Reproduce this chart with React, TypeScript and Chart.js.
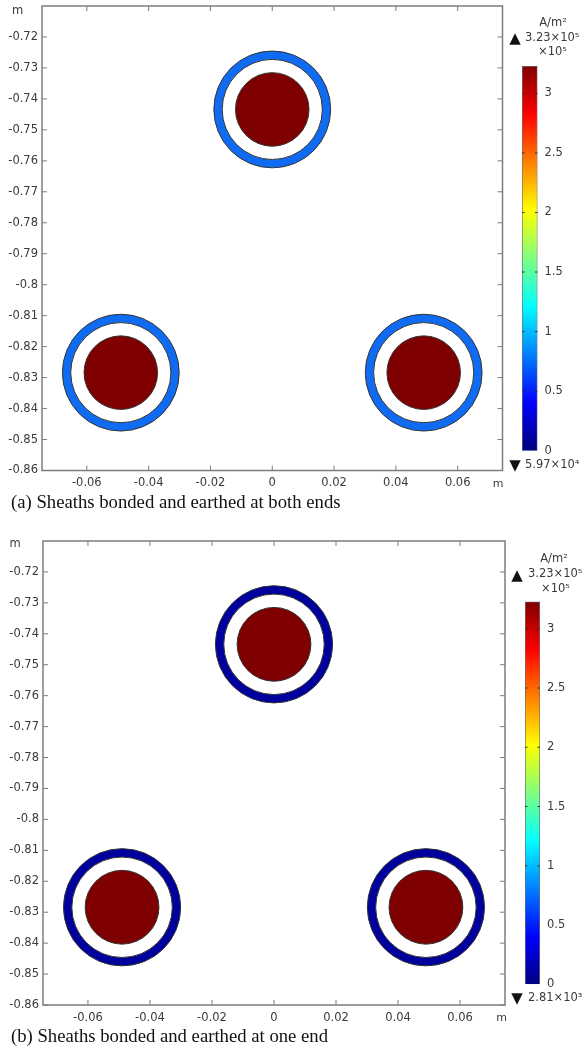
import React, { useEffect, useRef } from "react";
import { Chart, registerables } from "chart.js";

Chart.register(...registerables);

const FONT = "'DejaVu Sans'";
const TEXT = "#3a3a3a";

const xTicks = [-0.06, -0.04, -0.02, 0, 0.02, 0.04, 0.06];
const xLabels = ["-0.06", "-0.04", "-0.02", "0", "0.02", "0.04", "0.06"];
const yTicks = [-0.72, -0.73, -0.74, -0.75, -0.76, -0.77, -0.78, -0.79, -0.8, -0.81, -0.82, -0.83, -0.84, -0.85, -0.86];
const yLabels = ["-0.72", "-0.73", "-0.74", "-0.75", "-0.76", "-0.77", "-0.78", "-0.79", "-0.8", "-0.81", "-0.82", "-0.83", "-0.84", "-0.85", "-0.86"];

const cableX = [-0.049, 0, 0.049];
const cableY = [-0.8284, -0.7434, -0.8284];
const sheathOuterRadius = 0.0189;
const sheathInnerRadius = 0.0162;
const coreRadius = 0.0119;

const colorTicks = [0, 0.5, 1, 1.5, 2, 2.5, 3];
const colorLabels = ["0", "0.5", "1", "1.5", "2", "2.5", "3"];
const colorMax = 3.23;
const jetStops = [
  [0, "#00007f"],
  [0.125, "#0000ff"],
  [0.375, "#00ffff"],
  [0.625, "#ffff00"],
  [0.875, "#ff0000"],
  [1, "#7f0000"],
] as const;

const sheathColorA = "#0f6cf2";
const sheathColorB = "#00009c";
const coreColor = "#7f0000";

const framePlugin = {
  id: "frame",
  afterDatasetsDraw(chart: any) {
    const { ctx, chartArea: a, scales } = chart;
    ctx.save();
    ctx.strokeStyle = "#7d7d7d";
    ctx.lineWidth = 1;
    const len = 5;
    ctx.beginPath();
    scales.x.ticks.forEach((t: any) => {
      const p = scales.x.getPixelForValue(t.value);
      ctx.moveTo(p, a.top);
      ctx.lineTo(p, a.top + len);
      ctx.moveTo(p, a.bottom);
      ctx.lineTo(p, a.bottom - len);
    });
    scales.y.ticks.forEach((t: any) => {
      const p = scales.y.getPixelForValue(t.value);
      ctx.moveTo(a.left, p);
      ctx.lineTo(a.left + len, p);
      ctx.moveTo(a.right, p);
      ctx.lineTo(a.right - len, p);
    });
    ctx.stroke();
    ctx.lineWidth = 1.5;
    ctx.strokeRect(a.left, a.top, a.right - a.left, a.bottom - a.top);
    ctx.restore();
  },
};

const barTicksPlugin = {
  id: "barTicks",
  afterDatasetsDraw(chart: any) {
    const { ctx, chartArea: a, scales } = chart;
    ctx.save();
    ctx.strokeStyle = "#333";
    ctx.lineWidth = 1;
    ctx.beginPath();
    scales.y.ticks.forEach((t: any) => {
      const p = scales.y.getPixelForValue(t.value);
      if (t.value === 0) return;
      ctx.moveTo(a.left, p);
      ctx.lineTo(a.left + 2.5, p);
      ctx.moveTo(a.right, p);
      ctx.lineTo(a.right - 2.5, p);
    });
    ctx.stroke();
    ctx.restore();
  },
};

type Box = { left: number; right: number; top: number; bottom: number };

function radiusPx(value: number) {
  return (c: any) => {
    const s = c.chart.scales.x;
    return s.getPixelForValue(value) - s.getPixelForValue(0);
  };
}

function circleSet(r: number, fill: string, order: number) {
  return {
    data: cableX.map((x, i) => ({ x, y: cableY[i] })),
    showLine: false,
    order,
    pointRadius: radiusPx(r),
    pointHoverRadius: radiusPx(r),
    pointBackgroundColor: fill,
    pointBorderColor: "#333333",
    pointBorderWidth: 1,
    clip: false,
  };
}

function makePlot(canvas: HTMLCanvasElement, box: Box, height: number, sheath: string) {
  return new Chart(canvas, {
    type: "scatter",
    data: {
      datasets: [
        circleSet(sheathOuterRadius, sheath, 3),
        circleSet(sheathInnerRadius, "#ffffff", 2),
        circleSet(coreRadius, coreColor, 1),
      ],
    } as any,
    plugins: [framePlugin],
    options: {
      responsive: false,
      animation: false,
      events: [],
      layout: { padding: { left: 0, top: box.top, right: 584 - box.right, bottom: 0 } },
      plugins: { legend: { display: false }, tooltip: { enabled: false } },
      scales: {
        x: {
          type: "linear",
          min: -0.0745,
          max: 0.0745,
          grid: { display: false, drawTicks: false },
          border: { display: false },
          afterFit: (s: any) => {
            s.height = height - box.bottom;
            s.paddingLeft = 0;
            s.paddingRight = 0;
          },
          afterBuildTicks: (s: any) => { s.ticks = xTicks.map((value) => ({ value })); },
          ticks: {
            autoSkip: false,
            maxRotation: 0,
            padding: 6,
            color: TEXT,
            font: { family: FONT, size: 11.5 },
            callback: (v: any) => xLabels[xTicks.indexOf(v)] ?? "",
          },
        },
        y: {
          type: "linear",
          min: -0.86,
          max: -0.71,
          grid: { display: false, drawTicks: false },
          border: { display: false },
          afterFit: (s: any) => {
            s.width = box.left;
            s.paddingTop = 0;
            s.paddingBottom = 0;
          },
          afterBuildTicks: (s: any) => { s.ticks = yTicks.map((value) => ({ value })); },
          ticks: {
            autoSkip: false,
            padding: 4,
            color: TEXT,
            font: { family: FONT, size: 11.5 },
            callback: (v: any) => yLabels[yTicks.indexOf(v)] ?? "",
          },
        },
      },
    } as any,
  });
}

function makeBar(canvas: HTMLCanvasElement, box: Box, w: number, h: number) {
  return new Chart(canvas, {
    type: "bar",
    data: {
      labels: [""],
      datasets: [
        {
          data: [colorMax],
          barPercentage: 1,
          categoryPercentage: 1,
          borderWidth: 1,
          borderColor: "#6f6f6f",
          backgroundColor: (c: any) => {
            const a = c.chart.chartArea;
            if (!a) return "#888";
            const g = c.chart.ctx.createLinearGradient(0, a.bottom, 0, a.top);
            jetStops.forEach(([s, col]) => g.addColorStop(s, col));
            return g;
          },
        },
      ],
    } as any,
    plugins: [barTicksPlugin],
    options: {
      responsive: false,
      animation: false,
      events: [],
      layout: { padding: { left: box.left, top: box.top, right: 0, bottom: h - box.bottom } },
      plugins: { legend: { display: false }, tooltip: { enabled: false } },
      scales: {
        x: { display: false, grid: { display: false } },
        y: {
          position: "right",
          min: 0,
          max: colorMax,
          grid: { display: false, drawTicks: false },
          border: { display: false },
          afterFit: (s: any) => {
            s.width = w - box.right;
            s.paddingTop = 0;
            s.paddingBottom = 0;
          },
          afterBuildTicks: (s: any) => { s.ticks = colorTicks.map((value) => ({ value })); },
          ticks: {
            padding: 7,
            color: TEXT,
            font: { family: FONT, size: 11.5 },
            callback: (v: any) => colorLabels[colorTicks.indexOf(v)] ?? "",
          },
        },
      },
    } as any,
  });
}

function Label(p: { x: number; y: number; text: string; center?: boolean; spacing?: number; size?: number }) {
  return (
    <div
      style={{
        position: "absolute",
        left: p.x,
        top: p.y,
        transform: p.center ? "translate(-50%,-50%)" : "translateY(-50%)",
        font: `${p.size ?? 11.5}px ${FONT}`,
        color: TEXT,
        letterSpacing: p.spacing ?? 0,
        whiteSpace: "nowrap",
        lineHeight: 1,
      }}
    >
      {p.text}
    </div>
  );
}

function Triangle(p: { x: number; y: number; text: string }) {
  return (
    <div
      style={{
        position: "absolute",
        left: p.x,
        top: p.y,
        transform: "translate(-50%,-50%)",
        font: `15px ${FONT}`,
        color: "#111",
        lineHeight: 1,
      }}
    >
      {p.text}
    </div>
  );
}

function Caption(p: { y: number; text: string }) {
  return (
    <div
      style={{
        position: "absolute",
        left: 11,
        top: p.y,
        transform: "translateY(-50%)",
        font: "18.7px 'Liberation Serif'",
        color: "#111",
        whiteSpace: "nowrap",
        lineHeight: 1,
      }}
    >
      {p.text}
    </div>
  );
}

export default function App() {
  const plotA = useRef<HTMLCanvasElement>(null);
  const plotB = useRef<HTMLCanvasElement>(null);
  const barA = useRef<HTMLCanvasElement>(null);
  const barB = useRef<HTMLCanvasElement>(null);

  useEffect(() => {
    const charts = [
      makePlot(plotA.current!, { left: 42, right: 502.5, top: 6, bottom: 470.5 }, 495, sheathColorA),
      makePlot(plotB.current!, { left: 43, right: 505, top: 16, bottom: 480 }, 505, sheathColorB),
      makeBar(barA.current!, { left: 22, right: 37.5, top: 10, bottom: 394.7 }, 84, 410),
      makeBar(barB.current!, { left: 25, right: 40, top: 11.5, bottom: 394.3 }, 84, 410),
    ];
    return () => charts.forEach((c) => c.destroy());
  }, []);

  const canvas = (left: number, top: number): React.CSSProperties => ({ position: "absolute", left, top, display: "block" });

  return (
    <div style={{ position: "absolute", left: 0, top: 0, width: 584, height: 1046, background: "#fff", overflow: "hidden" }}>
      <canvas ref={plotA} width={584} height={495} style={canvas(0, 0)} />
      <canvas ref={plotB} width={584} height={505} style={canvas(0, 525)} />
      <canvas ref={barA} width={84} height={410} style={canvas(500, 56)} />
      <canvas ref={barB} width={84} height={410} style={canvas(500, 590)} />

      <Label x={17.5} y={11} text="m" center />
      <Label x={498} y={482.5} text="m" center size={11} />
      <Label x={553} y={23} text="A/m²" center />
      <Triangle x={515} y={38} text="▲" />
      <Label x={525} y={38} text="3.23×10⁵" />
      <Label x={538} y={52} text="×10⁵" />
      <Triangle x={515} y={465} text="▼" />
      <Label x={525} y={465} text="5.97×10⁴" />
      <Caption y={502} text="(a) Sheaths bonded and earthed at both ends" />

      <Label x={15} y={544} text="m" center />
      <Label x={501.5} y={1017} text="m" center size={11} />
      <Label x={554} y={559} text="A/m²" center />
      <Triangle x={517} y={575} text="▲" />
      <Label x={528} y={574} text="3.23×10⁵" />
      <Label x={541} y={589} text="×10⁵" />
      <Triangle x={517} y={998} text="▼" />
      <Label x={528} y={998} text="2.81×10³" />
      <Caption y={1036} text="(b) Sheaths bonded and earthed at one end" />
    </div>
  );
}
